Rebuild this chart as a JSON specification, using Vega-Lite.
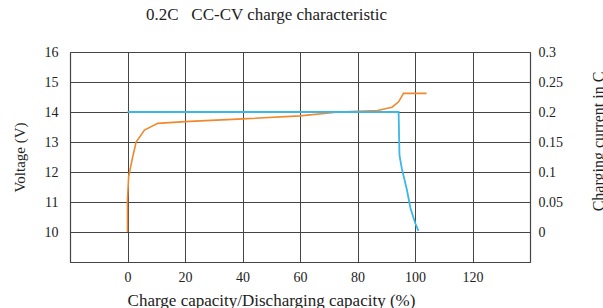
{
  "$schema": "https://vega.github.io/schema/vega-lite/v6.json",
  "width": 460,
  "height": 210,
  "autosize": "none",
  "padding": {"left": 70, "top": 52, "right": 73, "bottom": 46},
  "background": "white",
  "title": {
    "text": "0.2C\u00a0\u00a0\u00a0CC-CV charge characteristic",
    "anchor": "start",
    "frame": "group",
    "dx": 76,
    "fontSize": 17,
    "fontWeight": "normal",
    "font": "Liberation Serif",
    "color": "#222",
    "baseline": "middle",
    "offset": 13
  },
  "config": {
    "view": {"stroke": null},
    "font": "Liberation Serif",
    "axis": {
      "labelFont": "Liberation Serif",
      "titleFont": "Liberation Serif",
      "labelFontSize": 14,
      "titleFontSize": 17,
      "titleFontWeight": "normal",
      "labelColor": "#222",
      "titleColor": "#222",
      "ticks": false,
      "domainColor": "#444",
      "domainWidth": 1.2,
      "gridColor": "#444",
      "gridOpacity": 1,
      "gridWidth": 1
    }
  },
  "datasets": {
    "voltage": [
      {"i": 0, "x": 0, "v": 10},
      {"i": 1, "x": 0, "v": 11.1},
      {"i": 2, "x": 0.4, "v": 11.85},
      {"i": 3, "x": 1.8, "v": 12.5},
      {"i": 4, "x": 3, "v": 13.0},
      {"i": 5, "x": 5.9, "v": 13.4},
      {"i": 6, "x": 10.5, "v": 13.62},
      {"i": 7, "x": 20, "v": 13.68},
      {"i": 8, "x": 40, "v": 13.77},
      {"i": 9, "x": 60, "v": 13.87},
      {"i": 10, "x": 73.5, "v": 14.0},
      {"i": 11, "x": 80, "v": 14.02},
      {"i": 12, "x": 87, "v": 14.05},
      {"i": 13, "x": 92, "v": 14.16},
      {"i": 14, "x": 94.3, "v": 14.34},
      {"i": 15, "x": 96, "v": 14.62},
      {"i": 16, "x": 104, "v": 14.62}
    ],
    "current": [
      {"i": 0, "x": 0, "c": 0.2},
      {"i": 1, "x": 94.3, "c": 0.2},
      {"i": 2, "x": 94.6, "c": 0.128},
      {"i": 3, "x": 95.4, "c": 0.106},
      {"i": 4, "x": 97.2, "c": 0.07},
      {"i": 5, "x": 98.4, "c": 0.04},
      {"i": 6, "x": 100.1, "c": 0.0145},
      {"i": 7, "x": 101.2, "c": 0.002}
    ]
  },
  "layer": [
    {
      "data": {"name": "voltage"},
      "mark": {"type": "line", "color": "#F0882C", "strokeWidth": 1.6},
      "encoding": {
        "x": {
          "field": "x",
          "type": "quantitative",
          "scale": {"domain": [-20, 140], "nice": false},
          "axis": {
            "values": [-20, 0, 20, 40, 60, 80, 100, 120, 140],
            "labelExpr": "datum.value < 0 || datum.value > 130 ? '' : datum.label",
            "grid": true,
            "domain": true,
            "labelPadding": 8,
            "title": "Charge capacity/Discharging capacity (%)",
            "titleX": 201,
            "titleY": 38,
            "titleAlign": "center",
            "titleBaseline": "middle"
          }
        },
        "y": {
          "field": "v",
          "type": "quantitative",
          "scale": {"domain": [9, 16], "nice": false, "zero": false},
          "axis": {
            "values": [9, 10, 11, 12, 13, 14, 15, 16],
            "labelExpr": "datum.value < 9.5 ? '' : datum.label",
            "grid": true,
            "domain": true,
            "labelPadding": 12,
            "title": "Voltage (V)",
            "titleFontSize": 15,
            "titleAngle": 270,
            "titleX": -51,
            "titleY": 105,
            "titleAlign": "center",
            "titleBaseline": "middle"
          }
        },
        "order": {"field": "i", "type": "quantitative"}
      }
    },
    {
      "data": {"name": "current"},
      "mark": {"type": "line", "color": "#3BB7E8", "strokeWidth": 1.8},
      "encoding": {
        "x": {"field": "x", "type": "quantitative", "scale": {"domain": [-20, 140], "nice": false}},
        "y": {
          "field": "c",
          "type": "quantitative",
          "scale": {"domain": [-0.05, 0.3], "nice": false, "zero": false},
          "axis": {
            "orient": "right",
            "values": [0, 0.05, 0.1, 0.15, 0.2, 0.25, 0.3],
            "labelExpr": "datum.value == 0 ? '0' : format(datum.value, '.2~f')",
            "grid": false,
            "domain": true,
            "labelPadding": 8,
            "title": "Charging current in C",
            "titleFontSize": 16,
            "titleAngle": 270,
            "titleX": 68,
            "titleY": 89,
            "titleAlign": "center",
            "titleBaseline": "middle"
          }
        },
        "order": {"field": "i", "type": "quantitative"}
      }
    }
  ],
  "resolve": {"scale": {"y": "independent"}}
}
